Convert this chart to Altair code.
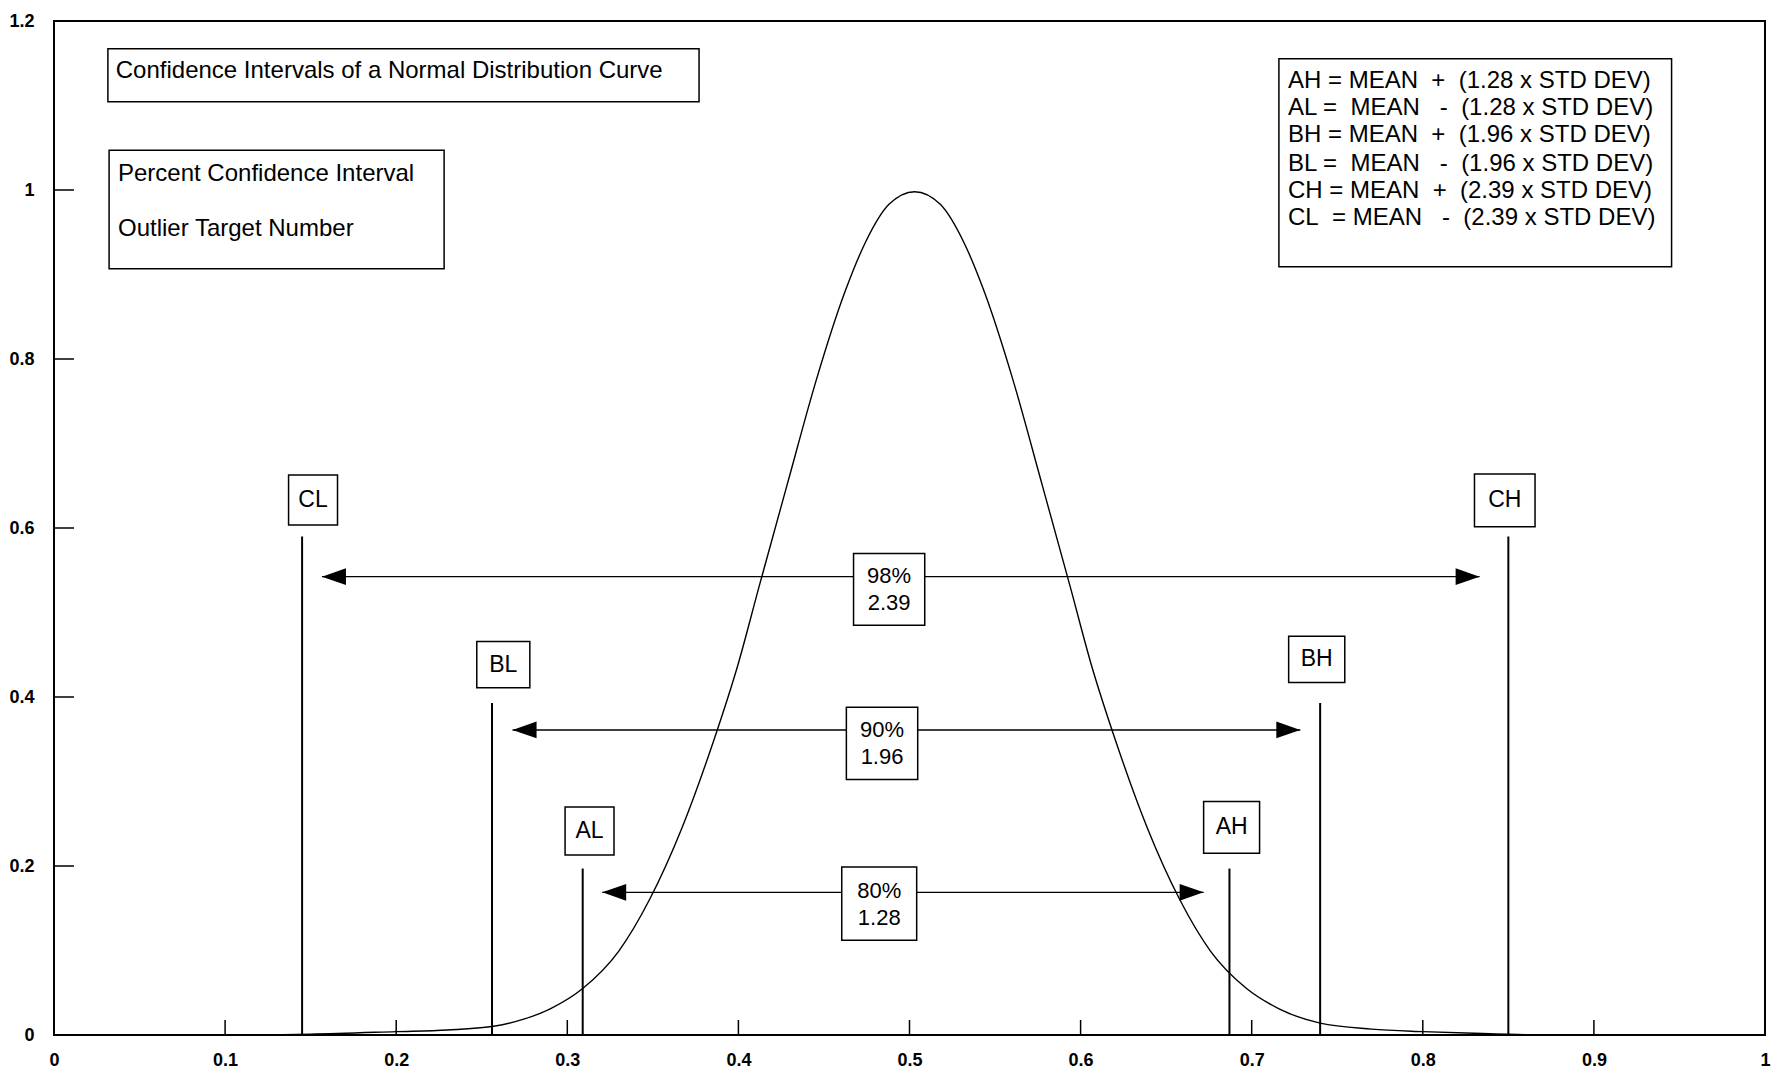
import altair as alt
import pandas as pd

# ---------------- data ----------------
curve_x = [0.0, 0.10, 0.15, 0.20, 0.23, 0.256, 0.275, 0.29, 0.309, 0.33, 0.348, 0.367,
           0.385, 0.40, 0.412, 0.429, 0.4455, 0.462, 0.474, 0.488, 0.503, 0.518, 0.532,
           0.544, 0.5605, 0.577, 0.594, 0.606, 0.621, 0.639, 0.658, 0.676, 0.697, 0.716,
           0.74, 0.77, 0.80, 0.83, 0.86, 0.90, 1.0]
curve_y = [0.0, 0.0, 0.001, 0.004, 0.006, 0.010, 0.019, 0.031, 0.055, 0.099, 0.160, 0.245,
           0.345, 0.440, 0.530, 0.655, 0.775, 0.878, 0.937, 0.983, 0.998, 0.983, 0.937,
           0.878, 0.775, 0.655, 0.530, 0.440, 0.345, 0.245, 0.160, 0.099, 0.055, 0.031,
           0.014, 0.007, 0.004, 0.002, 0.0005, 0.0, 0.0]

# vertical limit lines
limit_names = ["CL", "BL", "AL", "AH", "BH", "CH"]
limit_x = [0.145, 0.256, 0.309, 0.687, 0.740, 0.850]
limit_top = [0.590, 0.393, 0.197, 0.197, 0.393, 0.590]

# boxed labels above the limit lines
label_x1 = [0.1371, 0.2471, 0.2987, 0.6719, 0.7216, 0.8302]
label_x2 = [0.1657, 0.2781, 0.3273, 0.7046, 0.7544, 0.8656]
label_y1 = [0.6036, 0.4108, 0.2130, 0.2150, 0.4172, 0.6015]
label_y2 = [0.6627, 0.4657, 0.2698, 0.2763, 0.4720, 0.6639]

# double arrows with percent boxes
pct_text = ["98%\n2.39", "90%\n1.96", "80%\n1.28"]
arrow_left = [0.1566, 0.268, 0.3204]
arrow_right = [0.8332, 0.7284, 0.6719]
arrow_y = [0.5424, 0.361, 0.1688]
pct_x1 = [0.4673, 0.4631, 0.4604]
pct_x2 = [0.5089, 0.5048, 0.5042]
pct_y1 = [0.4850, 0.3024, 0.1121]
pct_y2 = [0.5697, 0.3878, 0.1988]

# annotation boxes
note_x1 = [0.0315, 0.0322, 0.7159]
note_x2 = [0.3770, 0.2280, 0.9454]
note_y1 = [1.1045, 0.9068, 0.9093]
note_y2 = [1.1673, 1.0471, 1.1554]

NB = "\u00a0"
note_lines = [
    "Confidence Intervals of a Normal Distribution Curve",
    "Percent Confidence Interval",
    "Outlier Target Number",
    f"AH = MEAN{NB}{NB}+{NB}{NB}(1.28 x STD DEV)",
    f"AL ={NB}{NB}MEAN{NB}{NB}{NB}-{NB}{NB}(1.28 x STD DEV)",
    f"BH = MEAN{NB}{NB}+{NB}{NB}(1.96 x STD DEV)",
    f"BL ={NB}{NB}MEAN{NB}{NB}{NB}-{NB}{NB}(1.96 x STD DEV)",
    f"CH = MEAN{NB}{NB}+{NB}{NB}(2.39 x STD DEV)",
    f"CL{NB}{NB}= MEAN{NB}{NB}{NB}-{NB}{NB}(2.39 x STD DEV)",
]
note_line_x = [0.0361, 0.0374, 0.0374, 0.7212, 0.7212, 0.7212, 0.7212, 0.7212, 0.7212]
note_line_y = [1.1409, 1.0189, 0.9535, 1.1287, 1.0966, 1.0645, 1.0310, 0.9989, 0.9669]

x_ticks = [0, 0.1, 0.2, 0.3, 0.4, 0.5, 0.6, 0.7, 0.8, 0.9, 1]
y_ticks = [0, 0.2, 0.4, 0.6, 0.8, 1, 1.2]

# ---------------- chart ----------------
W, H = 1711, 1014
FONT = "Liberation Sans"
xs = alt.Scale(domain=[0, 1], nice=False, zero=False)
ys = alt.Scale(domain=[0, 1.2], nice=False, zero=False)

curve_df = pd.DataFrame({"x": curve_x, "y": curve_y})
limits_df = pd.DataFrame({"name": limit_names, "x": limit_x, "top": limit_top, "bottom": [0.0] * 6})
labels_df = pd.DataFrame({"name": limit_names, "x1": label_x1, "x2": label_x2,
                          "y1": label_y1, "y2": label_y2})
labels_df["cx"] = (labels_df.x1 + labels_df.x2) / 2
labels_df["cy"] = (labels_df.y1 + labels_df.y2) / 2
arrows_df = pd.DataFrame({"l": arrow_left, "r": arrow_right, "y": arrow_y})
pct_df = pd.DataFrame({"t": pct_text, "x1": pct_x1, "x2": pct_x2, "y1": pct_y1, "y2": pct_y2})
pct_df["cx"] = (pct_df.x1 + pct_df.x2) / 2
pct_df["cy"] = (pct_df.y1 + pct_df.y2) / 2
notes_df = pd.DataFrame({"x1": note_x1, "x2": note_x2, "y1": note_y1, "y2": note_y2})
note_text_df = pd.DataFrame({"t": note_lines, "x": note_line_x, "y": note_line_y})
xt_df = pd.DataFrame({"v": x_ticks[1:-1]})
yt_df = pd.DataFrame({"v": y_ticks[1:-1]})

x_axis = alt.Axis(values=x_ticks, format="~g", ticks=False, domain=False, grid=False,
                  labelFont=FONT, labelFontSize=18, labelFontWeight="bold", labelColor="black",
                  labelPadding=16, labelFlush=False, labelOverlap=False, title=None)
y_axis = alt.Axis(values=y_ticks, format="~g", ticks=False, domain=False, grid=False,
                  labelFont=FONT, labelFontSize=18, labelFontWeight="bold", labelColor="black",
                  labelPadding=20, labelFlush=False, labelOverlap=False, title=None)


def X(f):
    return alt.X(f, scale=xs, axis=x_axis)


def Y(f):
    return alt.Y(f, scale=ys, axis=y_axis)


curve = alt.Chart(curve_df).mark_line(color="black", strokeWidth=1.4, interpolate="monotone").encode(
    x=X("x:Q"), y=Y("y:Q"))

xticks = alt.Chart(xt_df).mark_rule(color="black", strokeWidth=1.5).encode(
    x=X("v:Q"), y=alt.value(H), y2=alt.value(H - 15))
yticks = alt.Chart(yt_df).mark_rule(color="black", strokeWidth=1.5).encode(
    y=Y("v:Q"), x=alt.value(0), x2=alt.value(20))

limits = alt.Chart(limits_df).mark_rule(color="black", strokeWidth=2).encode(
    x=X("x:Q"), y=Y("bottom:Q"), y2="top:Q")

label_boxes = alt.Chart(labels_df).mark_rect(fill="white", stroke="black", strokeWidth=1.5).encode(
    x=X("x1:Q"), x2="x2:Q", y=Y("y1:Q"), y2="y2:Q")
label_text = alt.Chart(labels_df).mark_text(font=FONT, fontSize=23, color="black",
                                            align="center", baseline="middle").encode(
    x=X("cx:Q"), y=Y("cy:Q"), text="name:N")

arrow_lines = alt.Chart(arrows_df).mark_rule(color="black", strokeWidth=1.4).encode(
    x=X("l:Q"), x2="r:Q", y=Y("y:Q"))
left_heads = alt.Chart(arrows_df).mark_point(filled=True, color="black", opacity=1, size=2304,
                                             shape="M0,0L1,-0.35L1,0.35Z", strokeWidth=0).encode(
    x=X("l:Q"), y=Y("y:Q"))
right_heads = alt.Chart(arrows_df).mark_point(filled=True, color="black", opacity=1, size=2304,
                                              shape="M0,0L-1,-0.35L-1,0.35Z", strokeWidth=0).encode(
    x=X("r:Q"), y=Y("y:Q"))

pct_boxes = alt.Chart(pct_df).mark_rect(fill="white", stroke="black", strokeWidth=1.5).encode(
    x=X("x1:Q"), x2="x2:Q", y=Y("y1:Q"), y2="y2:Q")
pct_text_m = alt.Chart(pct_df).mark_text(font=FONT, fontSize=22, color="black", align="center",
                                         baseline="middle", lineBreak="\n", lineHeight=27,
                                         dy=-13).encode(
    x=X("cx:Q"), y=Y("cy:Q"), text="t:N")

note_boxes = alt.Chart(notes_df).mark_rect(fill="white", stroke="black", strokeWidth=1.5).encode(
    x=X("x1:Q"), x2="x2:Q", y=Y("y1:Q"), y2="y2:Q")
note_text = alt.Chart(note_text_df).mark_text(font=FONT, fontSize=24, color="black", align="left",
                                              baseline="middle").encode(
    x=X("x:Q"), y=Y("y:Q"), text="t:N")

chart = alt.layer(
    curve, xticks, yticks, limits, arrow_lines, left_heads, right_heads,
    label_boxes, label_text, pct_boxes, pct_text_m, note_boxes, note_text,
).properties(
    width=W, height=H,
    autosize=alt.AutoSizeParams(type="none"),
    padding={"left": 54, "top": 21, "right": 6, "bottom": 38},
    background="white",
).configure_view(stroke="black", strokeWidth=2)

chart.save("out.html", embed_options={"renderer": "svg", "actions": False})
